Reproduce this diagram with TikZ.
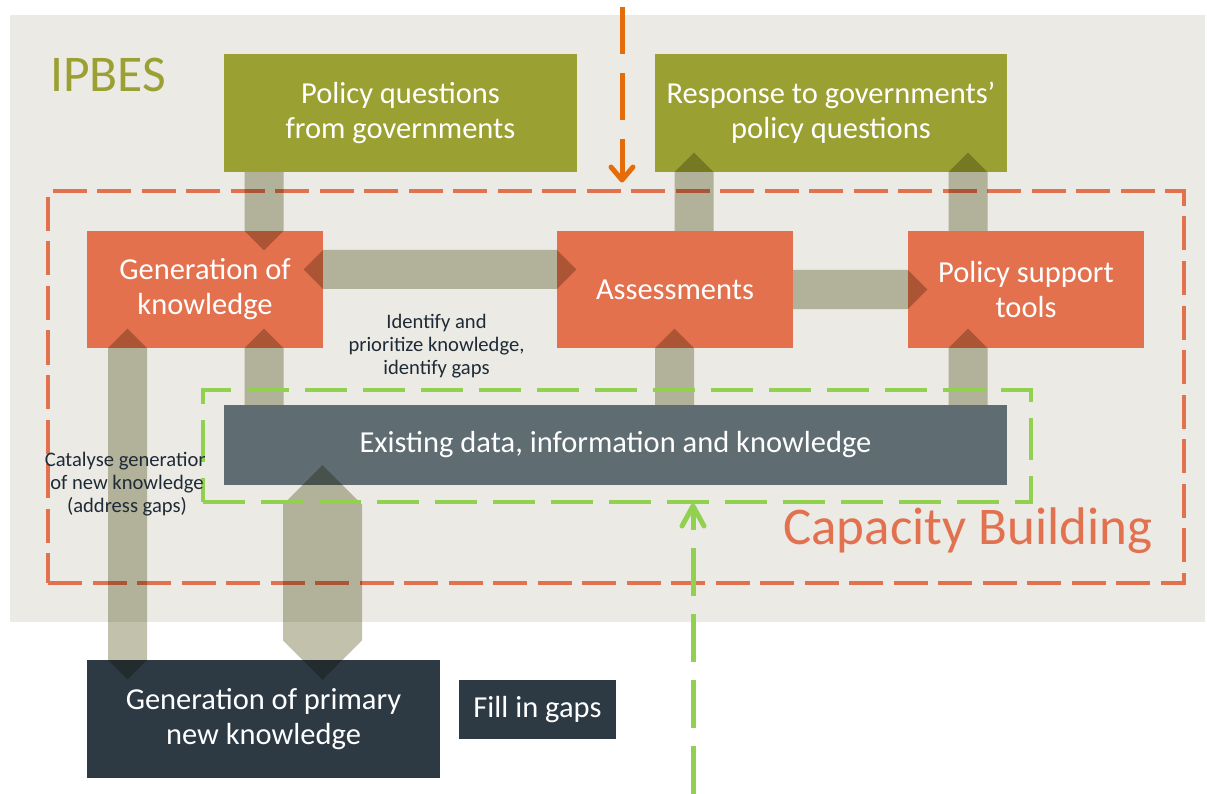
\documentclass[tikz,border=0pt]{standalone}
\usepackage{fontspec}
\setmainfont{Carlito}
\usetikzlibrary{calc}
\definecolor{bgc}{HTML}{ECEAE5}
\definecolor{olive}{HTML}{9BA033}
\definecolor{obox}{HTML}{E3714E}
\definecolor{odash}{HTML}{E2714F}
\definecolor{oarrow}{HTML}{E46C0A}
\definecolor{gdash}{HTML}{92D050}
\definecolor{slate}{HTML}{5F6D73}
\definecolor{darkbox}{HTML}{2D3A44}
\definecolor{bandc}{HTML}{C1C1AC}
\definecolor{smalltxt}{HTML}{1E2B36}

\newcommand\vone[3]{\fill[band] let \p1=(#2), \p2=(#3), \p3=(#1), \n1={sign(\y2-\y1)} in
  ({\x3-19.5pt},{\y1}) -- ({\x3-19.5pt},{\y2}) -- ({\x3},{\y2+(\n1)*19.5pt}) -- ({\x3+19.5pt},{\y2}) -- ({\x3+19.5pt},{\y1}) -- cycle;}
\newcommand\vtwo[3]{\fill[band] let \p1=(#2), \p2=(#3), \p3=(#1), \n1={sign(\y2-\y1)} in
  ({\x3},{\y1-(\n1)*19.5pt}) -- ({\x3-19.5pt},{\y1}) -- ({\x3-19.5pt},{\y2}) -- ({\x3},{\y2+(\n1)*19.5pt}) -- ({\x3+19.5pt},{\y2}) -- ({\x3+19.5pt},{\y1}) -- cycle;}
\newcommand\hone[3]{\fill[band] let \p1=(#2), \p2=(#3), \p3=(#1), \n1={sign(\x2-\x1)} in
  ({\x1},{\y3-19.5pt}) -- ({\x2},{\y3-19.5pt}) -- ({\x2+(\n1)*19.5pt},{\y3}) -- ({\x2},{\y3+19.5pt}) -- ({\x1},{\y3+19.5pt}) -- cycle;}
\newcommand\htwo[3]{\fill[band] let \p1=(#2), \p2=(#3), \p3=(#1), \n1={sign(\x2-\x1)} in
  ({\x1-(\n1)*19.5pt},{\y3}) -- ({\x1},{\y3-19.5pt}) -- ({\x2},{\y3-19.5pt}) -- ({\x2+(\n1)*19.5pt},{\y3}) -- ({\x2},{\y3+19.5pt}) -- ({\x1},{\y3+19.5pt}) -- cycle;}

\begin{document}
\begin{tikzpicture}[x=1pt,y=-1pt,
  box/.style={inner sep=0pt, align=center, text=white, font=\fontsize{30.5}{35}\selectfont},
  olivebox/.style={box, fill=olive, minimum width=353pt, minimum height=118pt},
  orangebox/.style={box, fill=obox, minimum width=236pt, minimum height=117pt},
  band/.style={fill=bandc},
  small/.style={inner sep=0pt, align=center, text=smalltxt, font=\fontsize{20.6}{23}\selectfont},
  odashed/.style={draw=odash, line width=3.5pt, dash pattern=on 34pt off 10.5pt},
  gdashed/.style={draw=gdash, line width=4pt, dash pattern=on 42pt off 16pt},
  oarr/.style={draw=oarrow, line width=5pt},
  garr/.style={draw=gdash, line width=5pt}]
\useasboundingbox (0,0) rectangle (1207,794);
\fill[white] (0,0) rectangle (1207,794);
\fill[bgc] (10,15) rectangle (1205,622);

\node[anchor=base west, inner sep=0pt, text=olive, font=\fontsize{51.5}{52}\selectfont] (ipbes) at (50,92) {IPBES};

% capacity building frame
\node[odashed, minimum width=1136pt, minimum height=392pt, inner sep=0pt] (cbframe) at (616,387) {};
\node[anchor=base west, inner sep=0pt, text=odash, font=\fontsize{53}{54}\selectfont] (cbtext) at (783,544) {Capacity Building};

% boxes
\node[olivebox] (pq) at (400.5,113) {Policy questions\\from governments};
\node[olivebox, minimum width=352pt] (resp) at (831,113) {Response to governments'\\policy questions};
\node[orangebox] (gen) at (205,289.5) {Generation of\\knowledge};
\node[orangebox] (ass) at (675,289.5) {Assessments};
\node[orangebox] (pst) at (1026,289.5) {Policy support\\tools};
\node[box, fill=slate, minimum width=783pt, minimum height=80pt] (ex) at (615.5,445) {Existing data, information and knowledge};
\node[box, fill=darkbox, minimum width=353pt, minimum height=118pt] (prim) at (263.5,719) {Generation of primary\\new knowledge};
\node[box, fill=darkbox, minimum width=157pt, minimum height=59pt] (fill) at (537.5,709.5) {Fill in gaps};

% connectors (multiply blend)
\begin{scope}[blend mode=multiply]
\vone{264,0}{pq.south}{gen.north}
\vone{694,0}{ass.north}{resp.south}
\vone{968,0}{pst.north}{resp.south}
\htwo{0,269.5}{gen.east}{ass.west}
\hone{0,289.5}{ass.east}{pst.west}
\vone{264,0}{ex.north}{gen.south}
\vone{674.5,0}{ex.north}{ass.south}
\vone{968,0}{ex.north}{pst.south}
\vtwo{127.5,0}{prim.north}{gen.south}
\fill[band] let \p1=(ex.south), \p2=(prim.north) in
  (322.5pt,{\y1+20pt}) -- (362pt,{\y1-19.5pt}) -- (362pt,{\y2+19.5pt}) --
  (322.5pt,{\y2-20pt}) -- (283pt,{\y2+19.5pt}) -- (283pt,{\y1-19.5pt}) -- cycle;
\end{scope}

% existing-knowledge frame
\node[gdashed, minimum width=828pt, minimum height=112pt, inner sep=0pt] (exframe) at (617,446) {};

% labels
\node[small] (lblid) at (436.5,346.5) {Identify and\\prioritize knowledge,\\identify gaps};
\begin{scope}
\clip (0,0) rectangle (204,794);
\node[small] (lblcat) at (127,484) {Catalyse generation\\of new knowledge\\(address gaps)};
\end{scope}

% orange dashed arrow from the top
\coordinate (otail) at (622,5);
\coordinate (otip) at (622,180);
\draw[oarr, dash pattern=on 47pt off 19pt, dash phase=-2pt] (otail) -- (otip);
\draw[oarr, line cap=round, line join=round] ($(otip)+(-11,-13)$) -- (otip) -- ($(otip)+(11,-13)$);

% green dashed arrow from the bottom
\coordinate (gtail) at (693,794);
\coordinate (gtip) at (693,506);
\draw[garr, dash pattern=on 48pt off 18pt] (gtail) -- (gtip);
\draw[garr, line cap=round, line join=round] ($(gtip)+(-11,20)$) -- (gtip) -- ($(gtip)+(11,20)$);
\end{tikzpicture}
\end{document}
